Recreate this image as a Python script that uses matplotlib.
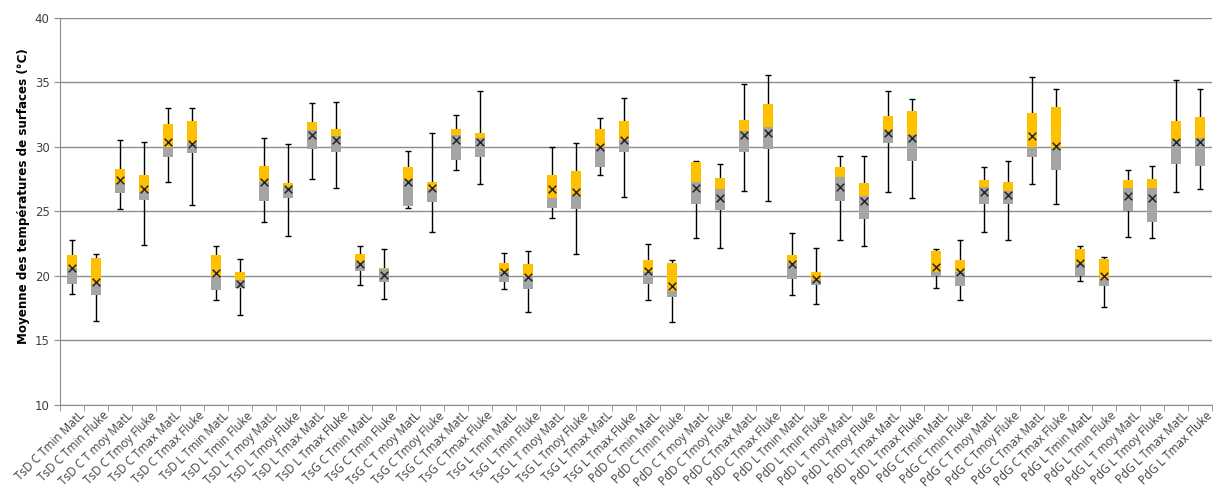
import numpy as np
import matplotlib
matplotlib.use('Agg')
import matplotlib.pyplot as plt

# categories
labels = [
    'TsD C Tmin MatL', 'TsD C Tmin Fluke', 'TsD C T moy MatL', 'TsD C Tmoy Fluke',
    'TsD C Tmax MatL', 'TsD C Tmax Fluke', 'TsD L Tmin MatL', 'TsD L Tmin Fluke',
    'TsD L T moy MatL', 'TsD L Tmoy Fluke', 'TsD L Tmax MatL', 'TsD L Tmax Fluke',
    'TsG C Tmin MatL', 'TsG C Tmin Fluke', 'TsG C T moy MatL', 'TsG C Tmoy Fluke',
    'TsG C Tmax MatL', 'TsG C Tmax Fluke', 'TsG L Tmin MatL', 'TsG L Tmin Fluke',
    'TsG L T moy MatL', 'TsG L Tmoy Fluke', 'TsG L Tmax MatL', 'TsG L Tmax Fluke',
    'PdD C Tmin MatL', 'PdD C Tmin Fluke', 'PdD C T moy MatL', 'PdD C Tmoy Fluke',
    'PdD C Tmax MatL', 'PdD C Tmax Fluke', 'PdD L Tmin MatL', 'PdD L Tmin Fluke',
    'PdD L T moy MatL', 'PdD L Tmoy Fluke', 'PdD L Tmax MatL', 'PdD L Tmax Fluke',
    'PdG C Tmin MatL', 'PdG C Tmin Fluke', 'PdG C T moy MatL', 'PdG C Tmoy Fluke',
    'PdG C Tmax MatL', 'PdG C Tmax Fluke', 'PdG L Tmin MatL', 'PdG L Tmin Fluke',
    'PdG L T moy MatL', 'PdG L Tmoy Fluke', 'PdG L Tmax MatL', 'PdG L Tmax Fluke',
]

# box statistics
whisk_hi = [22.8, 21.7, 30.5, 30.4, 33.0, 33.0, 22.3, 21.3, 30.7, 30.2, 33.4, 33.5,
            22.3, 22.1, 29.7, 31.1, 32.5, 34.3, 21.8, 21.9, 30.0, 30.3, 32.2, 33.8,
            22.5, 21.2, 28.9, 28.7, 34.9, 35.6, 23.3, 22.2, 29.3, 29.3, 34.3, 33.7,
            22.1, 22.8, 28.4, 28.9, 35.4, 34.5, 22.3, 21.5, 28.2, 28.5, 35.2, 34.5]
q3 = [21.6, 21.4, 28.3, 27.8, 31.8, 32.0, 21.6, 20.3, 28.5, 27.2, 31.9, 31.4,
      21.7, 20.6, 28.4, 27.3, 31.4, 31.1, 21.0, 20.9, 27.8, 28.1, 31.4, 32.0,
      21.2, 21.0, 28.8, 27.6, 32.1, 33.3, 21.6, 20.3, 28.4, 27.2, 32.4, 32.8,
      21.9, 21.2, 27.4, 27.3, 32.6, 33.1, 22.1, 21.3, 27.4, 27.5, 32.0, 32.3]
median = [20.6, 19.4, 27.2, 26.5, 30.0, 30.3, 20.0, 19.7, 27.3, 26.9, 31.3, 30.8,
          21.1, 20.5, 27.4, 26.7, 30.9, 30.7, 20.3, 20.0, 26.0, 26.3, 30.0, 30.5,
          20.3, 18.8, 27.3, 26.7, 31.2, 31.5, 21.0, 19.7, 27.7, 26.2, 31.2, 30.9,
          20.3, 20.3, 26.9, 26.6, 30.0, 29.9, 20.9, 19.8, 26.8, 26.8, 30.5, 30.7]
q1 = [19.4, 18.5, 26.4, 25.9, 29.2, 29.5, 18.9, 19.1, 25.8, 26.0, 29.8, 29.6,
      20.4, 19.5, 25.4, 25.7, 29.0, 29.2, 19.5, 19.0, 25.3, 25.2, 28.4, 29.6,
      19.4, 18.4, 25.6, 25.1, 29.6, 29.8, 19.8, 19.3, 25.8, 24.4, 30.3, 28.9,
      20.0, 19.2, 25.6, 25.6, 29.2, 28.2, 20.0, 19.2, 25.0, 24.2, 28.7, 28.5]
whisk_lo = [18.6, 16.5, 25.2, 22.4, 27.3, 25.5, 18.1, 17.0, 24.2, 23.1, 27.5, 26.8,
            19.3, 18.2, 25.3, 23.4, 28.2, 27.1, 19.0, 17.2, 24.5, 21.7, 27.8, 26.1,
            18.1, 16.4, 22.9, 22.2, 26.6, 25.8, 18.5, 17.8, 22.8, 22.3, 26.5, 26.0,
            19.1, 18.1, 23.4, 22.8, 27.1, 25.6, 19.6, 17.6, 23.0, 22.9, 26.5, 26.7]
mean = [20.6, 19.5, 27.4, 26.7, 30.4, 30.2, 20.2, 19.4, 27.3, 26.7, 30.9, 30.5,
        20.9, 20.1, 27.3, 26.8, 30.5, 30.4, 20.3, 19.9, 26.7, 26.5, 30.0, 30.5,
        20.4, 19.2, 26.8, 26.0, 30.9, 31.1, 20.9, 19.8, 26.9, 25.8, 31.1, 30.7,
        20.7, 20.3, 26.5, 26.3, 30.8, 30.1, 21.0, 20.0, 26.2, 26.0, 30.4, 30.4]

x = np.arange(len(labels))
q1 = np.array(q1)
q3 = np.array(q3)
median = np.array(median)
lo = np.array(whisk_lo)
hi = np.array(whisk_hi)

fig = plt.figure(figsize=(12.18, 4.88), dpi=100)
ax = fig.add_axes([0.0493, 0.170, 0.9457, 0.7937])

# whiskers
ax.errorbar(x, median, yerr=[median - lo, hi - median], fmt='none',
            ecolor='black', elinewidth=1, capsize=2.5, capthick=1, zorder=2)
# boxes: lower part grey, upper part yellow
ax.bar(x, median - q1, bottom=q1, width=0.42, color='#A5A5A5', zorder=3)
ax.bar(x, q3 - median, bottom=median, width=0.42, color='#FFC000', zorder=3)
# means
ax.scatter(x, mean, marker='x', color='#262626', s=30, linewidths=1.1, zorder=4)

ax.set_xlim(-0.5, len(labels) - 0.5)
ax.set_ylim(10, 40)
ax.set_yticks(np.arange(10, 41, 5))
ax.yaxis.grid(True, color='#8c8c8c', linewidth=1)
ax.set_axisbelow(True)

ax.set_xticks(x + 0.25)
ax.set_xticklabels(labels, rotation=45, ha='right', rotation_mode='anchor',
                   fontsize=8.5, color='#404040', family='Open Sans')
ax.tick_params(axis='x', which='major', length=0, pad=3)
ax.set_xticks(np.arange(-0.5, len(labels), 1), minor=True)
ax.tick_params(axis='x', which='minor', length=4, color='#8c8c8c')
ax.tick_params(axis='y', length=4, color='#8c8c8c', labelsize=8.5, labelcolor='#404040')

for s in ['top', 'right']:
    ax.spines[s].set_visible(False)
for s in ['left', 'bottom']:
    ax.spines[s].set_color('#8c8c8c')

ax.set_ylabel('Moyenne des températures de surfaces (°C)', fontsize=8.6,
              fontweight='bold', family=['Liberation Sans Narrow', 'DejaVu Sans'])
ax.yaxis.set_label_coords(-0.026, 0.54)

fig.savefig('out.png', dpi=100)
